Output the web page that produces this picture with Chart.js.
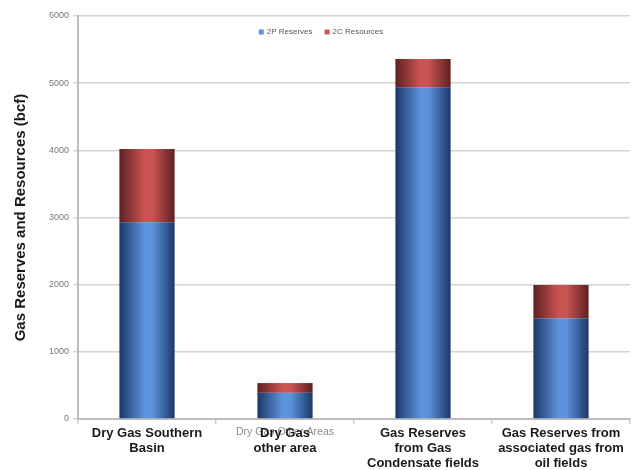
<!DOCTYPE html>
<html>
<head>
<meta charset="utf-8">
<script src="https://cdn.jsdelivr.net/npm/chart.js@4/dist/chart.umd.min.js"></script>
<style>
  html, body { margin: 0; padding: 0; background: #fff; }
  #wrap { width: 636px; height: 470px; }
</style>
</head>
<body>
<div id="wrap"><canvas id="chart" width="636" height="470"></canvas></div>
<script>
// Data ------------------------------------------------------------------------------------

var CATEGORIES = [
    ['Dry Gas Southern', 'Basin'],
    ['Dry Gas', 'other area'],
    ['Gas Reserves', 'from Gas', 'Condensate fields'],
    ['Gas Reserves from', 'associated gas from', 'oil fields']
];
var RESERVES_2P  = [2930, 390, 4940, 1500];
var RESOURCES_2C = [1090, 145, 420, 495];
var Y_TICKS = [0, 1000, 2000, 3000, 4000, 5000, 6000];
var GHOST_LABEL = 'Dry Gas Other Areas';

// Constants ------------------------------------------------------------------------------

var BLUE_EDGE = '#1c3767';
var BLUE_MID  = '#5d92dc';
var RED_EDGE  = '#5f2020';
var RED_MID   = '#c95452';
var FONT = '"Liberation Sans", Arial, sans-serif';

// Functions ------------------------------------------------------------------------------

function cylinderGradient(ctx, x0, x1, edge, mid) {
    var g = ctx.createLinearGradient(x0, 0, x1, 0);
    g.addColorStop(0, edge);
    g.addColorStop(0.45, mid);
    g.addColorStop(0.6, mid);
    g.addColorStop(1, edge);
    return g;
}

// draw each bar as a shaded cylinder-like column
var shadePlugin = {
    id: 'shade',
    beforeDatasetDraw: function(chart, args) {
        var ds = chart.data.datasets[args.index];
        var ctx = chart.ctx;
        ctx.save();
        args.meta.data.forEach(function(bar) {
            var half = bar.width / 2;
            var top = Math.min(bar.y, bar.base);
            var h = Math.abs(bar.base - bar.y);
            ctx.fillStyle = cylinderGradient(ctx, bar.x - half, bar.x + half, ds.edge, ds.mid);
            ctx.fillRect(bar.x - half, top, bar.width, h);
        });
        ctx.restore();
        return false;
    }
};

// faded label that sits underneath the bold category label
var ghostPlugin = {
    id: 'ghost',
    beforeDraw: function(chart) {
        var ctx = chart.ctx;
        var gx = chart.scales.x.getPixelForValue(1);
        ctx.save();
        ctx.font = '10.5px ' + FONT;
        ctx.fillStyle = '#8a8a8a';
        ctx.textAlign = 'center';
        ctx.textBaseline = 'middle';
        ctx.fillText(GHOST_LABEL, gx, 432);
        ctx.restore();
    }
};

// small legend sitting inside the plot area
var legendPlugin = {
    id: 'innerLegend',
    afterDraw: function(chart) {
        var ctx = chart.ctx;
        var area = chart.chartArea;
        ctx.save();
        ctx.font = '8px ' + FONT;
        ctx.textBaseline = 'middle';
        var items = chart.data.datasets;
        var gap = 12, box = 5, pad = 3;
        var total = 0;
        items.forEach(function(ds, i) {
            total += box + pad + ctx.measureText(ds.label).width + (i < items.length - 1 ? gap : 0);
        });
        var x = (area.left + area.right) / 2 - total / 2 - 33;
        var y = 32;
        items.forEach(function(ds) {
            ctx.fillStyle = ds.mid;
            ctx.fillRect(x, y - box / 2, box, box);
            x += box + pad;
            ctx.fillStyle = '#555';
            ctx.fillText(ds.label, x, y);
            x += ctx.measureText(ds.label).width + gap;
        });
        ctx.restore();
    }
};

var context = document.getElementById('chart').getContext('2d');

var chart = new Chart(context, {
    type: 'bar',
    data: {
        labels: CATEGORIES,
        datasets: [{
            label: '2P Reserves',
            data: RESERVES_2P,
            backgroundColor: BLUE_MID,
            edge: BLUE_EDGE,
            mid: BLUE_MID,
            borderWidth: 0,
            categoryPercentage: 1,
            barPercentage: 0.4
        }, {
            label: '2C Resources',
            data: RESOURCES_2C,
            backgroundColor: RED_MID,
            edge: RED_EDGE,
            mid: RED_MID,
            borderWidth: 0,
            categoryPercentage: 1,
            barPercentage: 0.4
        }]
    },
    options: {
        responsive: false,
        animation: false,
        layout: { padding: { top: 16, right: 6, left: 0, bottom: 0 } },
        plugins: {
            legend: { display: false },
            tooltip: { enabled: false }
        },
        scales: {
            x: {
                stacked: true,
                afterFit: function(scale) { scale.height = 51; },
                grid: {
                    drawOnChartArea: false,
                    drawTicks: true,
                    tickLength: 5,
                    color: '#cccccc',
                    lineWidth: 1.5
                },
                border: { color: '#bdbdbd', width: 2 },
                ticks: {
                    color: '#1a1a1a',
                    padding: 2,
                    maxRotation: 0,
                    autoSkip: false,
                    font: { size: 13, weight: 'bold', family: FONT, lineHeight: 1.15 }
                }
            },
            y: {
                stacked: true,
                min: 0,
                max: 6000,
                afterFit: function(scale) { scale.width = 78; },
                afterBuildTicks: function(scale) {
                    scale.ticks = Y_TICKS.map(function(v) { return { value: v }; });
                },
                grid: {
                    color: '#d4d4d4',
                    lineWidth: 1.5,
                    tickLength: 5
                },
                border: { color: '#bdbdbd', width: 2 },
                ticks: {
                    color: '#777',
                    padding: 4,
                    font: { size: 9, family: FONT },
                    callback: function(v) { return String(v); }
                },
                title: {
                    display: true,
                    text: 'Gas Reserves and Resources (bcf)',
                    color: '#1a1a1a',
                    padding: { top: 12, bottom: 4 },
                    font: { size: 15, weight: 'bold', family: FONT }
                }
            }
        }
    },
    plugins: [ghostPlugin, shadePlugin, legendPlugin]
});
</script>
</body>
</html>
